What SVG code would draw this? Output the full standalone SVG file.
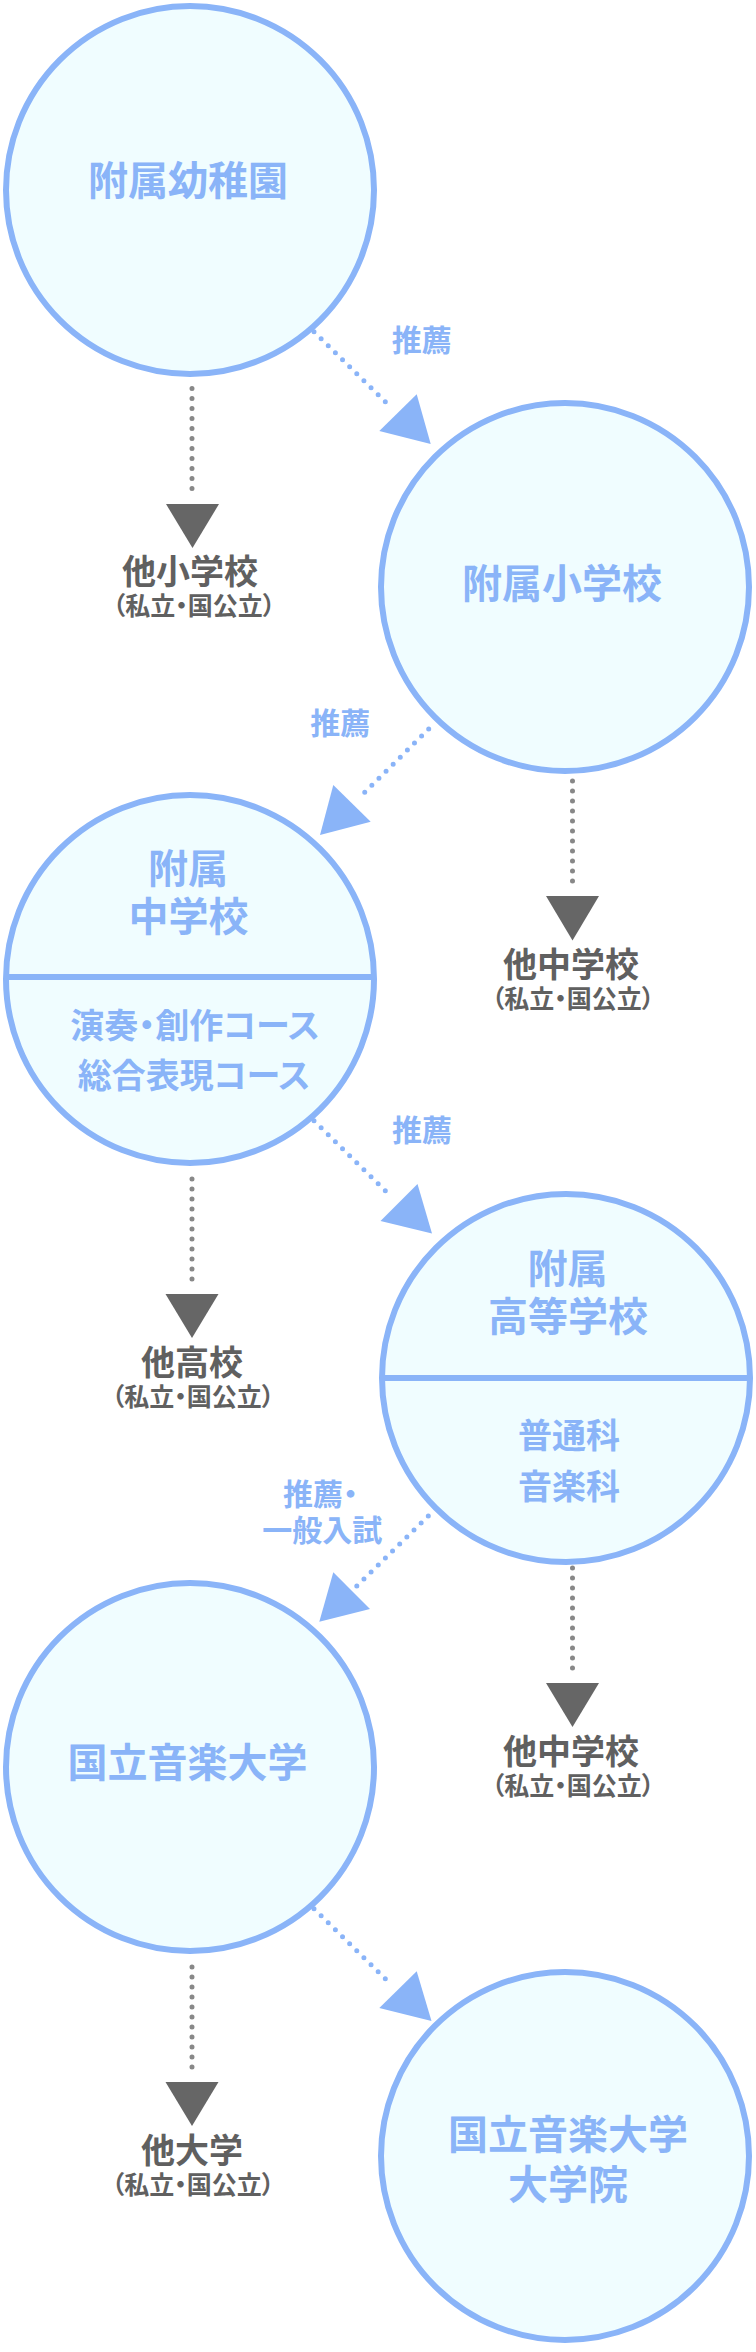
<svg xmlns="http://www.w3.org/2000/svg" width="756" height="2352" viewBox="0 0 756 2352">
<style>
text{font-family:"Noto Sans CJK JP","Noto Sans CJK SC",sans-serif;font-weight:bold;text-anchor:middle;font-feature-settings:"palt"}
.node{fill:#F0FDFF;stroke:#8AB4F8;stroke-width:6}
.div{stroke:#8AB4F8;stroke-width:6}
.t40{fill:#8AB4F8;font-size:40px}
.t34{fill:#8AB4F8;font-size:34px}
.lbl{fill:#8AB4F8;font-size:30px}
.g34{fill:#606060;font-size:34px}
.g25{fill:#606060;font-size:25px}
.dotb{fill:none;stroke:#8AB4F8;stroke-width:5;stroke-linecap:round;stroke-dasharray:0 10}
.dotg{fill:none;stroke:#888888;stroke-width:5;stroke-linecap:round;stroke-dasharray:0 10}
.headb{fill:#8AB4F8}
.headg{fill:#666666}
</style>
<rect width="756" height="2352" fill="#FFFFFF"/>
<g id="connectors">
  <path class="dotb" d="M314,331.7 L392.3,408.7"/>
  <polygon class="headb" points="416.7,394.3 379.3,431 430.7,444"/>
  <path class="dotb" d="M428.7,729 L357.7,799.3"/>
  <polygon class="headb" points="333.3,785 370.7,821.7 320,835"/>
  <path class="dotb" d="M314,1120.7 L392.3,1197.7"/>
  <polygon class="headb" points="417.5,1184 380.5,1221 432,1233.5"/>
  <path class="dotb" d="M428.3,1516 L356.7,1586"/>
  <polygon class="headb" points="333.3,1572.3 370,1609 319.3,1621.7"/>
  <path class="dotb" d="M314,1908.7 L392.3,1985.7"/>
  <polygon class="headb" points="416.7,1971.3 379.3,2008 431.5,2021"/>
  <path class="dotg" d="M192,388.5 V498.5"/>
  <polygon class="headg" points="166,504 219,504 192.5,548"/>
  <path class="dotg" d="M572.5,781 V891"/>
  <polygon class="headg" points="546,896 599,896 572.5,940.5"/>
  <path class="dotg" d="M192,1179 V1289"/>
  <polygon class="headg" points="165.5,1294 218.5,1294 192,1338"/>
  <path class="dotg" d="M572.5,1568 V1678"/>
  <polygon class="headg" points="546,1683 599,1683 572.5,1727"/>
  <path class="dotg" d="M192,1967 V2077"/>
  <polygon class="headg" points="165.5,2082 218.5,2082 192,2126"/>
  <text class="lbl" x="421.7" y="351.4">推薦</text>
  <text class="lbl" x="340.3" y="734.4">推薦</text>
  <text class="lbl" x="422" y="1141.4">推薦</text>
  <text class="lbl" x="320.5" y="1505">推薦・</text>
  <text class="lbl" x="322.3" y="1541">一般入試</text>
</g>
<g id="node-kindergarten">
  <circle class="node" cx="190" cy="190" r="184"/>
  <text class="t40" x="188" y="195">附属幼稚園</text>
</g>
<g id="node-elementary">
  <circle class="node" cx="565" cy="587" r="184"/>
  <text class="t40" x="562" y="598">附属小学校</text>
</g>
<g id="node-junior-high">
  <circle class="node" cx="190" cy="979" r="184"/>
  <line class="div" x1="6" y1="977" x2="374" y2="977"/>
  <text class="t40" x="188" y="883">附属</text>
  <text class="t40" x="188.5" y="931">中学校</text>
  <text class="t34" x="195" y="1037.5">演奏・創作コース</text>
  <text class="t34" x="194" y="1088">総合表現コース</text>
</g>
<g id="node-high">
  <circle class="node" cx="566" cy="1378" r="184"/>
  <line class="div" x1="382" y1="1378" x2="750" y2="1378"/>
  <text class="t40" x="567.5" y="1283">附属</text>
  <text class="t40" x="568" y="1331">高等学校</text>
  <text class="t34" x="569" y="1448">普通科</text>
  <text class="t34" x="569" y="1499">音楽科</text>
</g>
<g id="node-university">
  <circle class="node" cx="190" cy="1767" r="184"/>
  <text class="t40" x="187.5" y="1777">国立音楽大学</text>
</g>
<g id="node-graduate">
  <circle class="node" cx="565" cy="2156" r="184"/>
  <text class="t40" x="568" y="2149">国立音楽大学</text>
  <text class="t40" x="568" y="2199">大学院</text>
</g>
<g id="other-elementary">
  <text class="g34" x="190" y="584">他小学校</text>
  <text class="g25" x="194" y="615">（私立・国公立）</text>
</g>
<g id="other-junior-high">
  <text class="g34" x="571" y="977">他中学校</text>
  <text class="g25" x="573" y="1008">（私立・国公立）</text>
</g>
<g id="other-high">
  <text class="g34" x="192" y="1374.5">他高校</text>
  <text class="g25" x="193" y="1405.5">（私立・国公立）</text>
</g>
<g id="other-junior-high-2">
  <text class="g34" x="571" y="1763.5">他中学校</text>
  <text class="g25" x="573" y="1794.5">（私立・国公立）</text>
</g>
<g id="other-university">
  <text class="g34" x="192" y="2162.5">他大学</text>
  <text class="g25" x="193" y="2193.5">（私立・国公立）</text>
</g>
</svg>
